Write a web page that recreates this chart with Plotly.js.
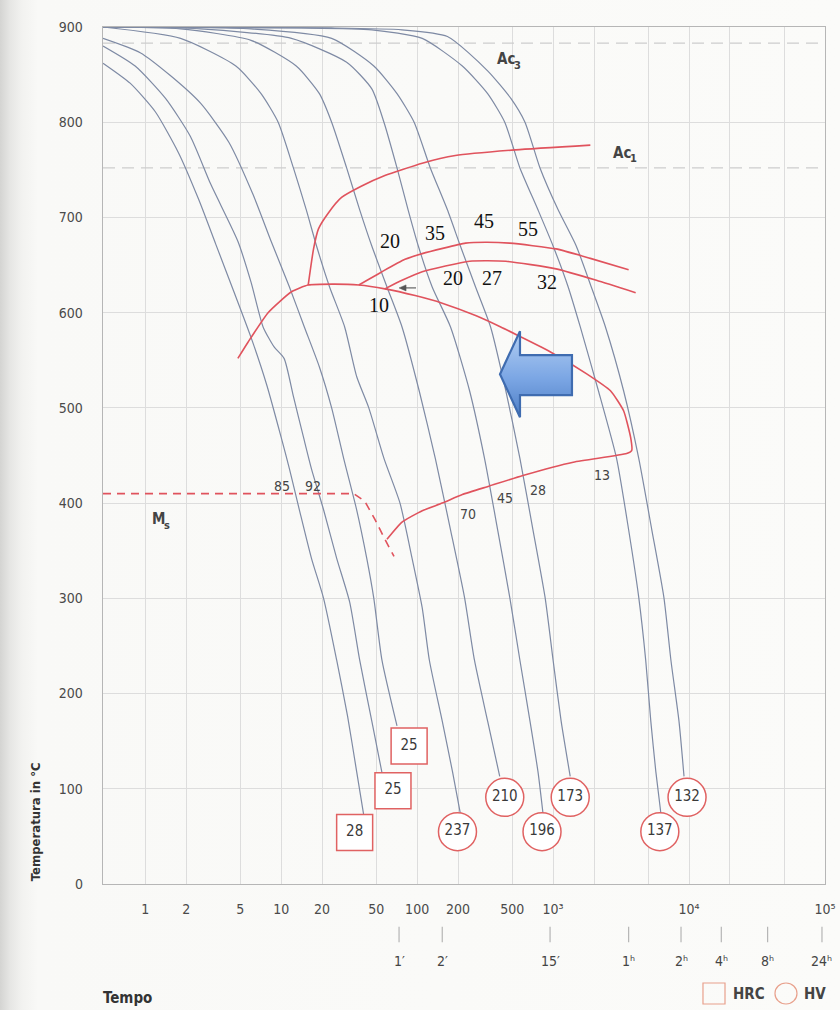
<!DOCTYPE html>
<html>
<head>
<meta charset="utf-8">
<script src="https://cdn.plot.ly/plotly-3.0.1.min.js"></script>
<style>
  html, body { margin: 0; padding: 0; }
  body {
    width: 840px; height: 1010px; overflow: hidden;
    background: linear-gradient(to right, #d4d4d2 0px, #e6e6e4 10px, #f2f2f0 22px, #f9f9f7 38px, #fbfbf9 100%);
  }
  #chart { width: 840px; height: 1010px; }
</style>
</head>
<body>
<div id="chart"></div>
<script>
// ---- Cooling curves (time in s, temperature in °C) ----
const c1Time = [0.489,0.774,1.186,1.755,2.47,3.30,4.49,6.0,7.87,10.0,11.5,13.6,16.7,20.5,25.6,30.8,35.9,40.5];
const c1Temp = [862,841,811,768,719,672,622,574,523,469,436,393,342,300,235,176,118,72];
const c2Time = [0.489,0.843,1.41,2.15,3.03,4.80,6.0,7.36,8.87,10.5,12.3,14.6,16.7,20.5,25.6,31.9,37.8,46.4,55.1];
const c2Temp = [880,859,825,785,735,675,632,585,564,552,512,469,436,393,342,296,235,171,117];
const c3Time = [0.489,0.918,1.53,2.55,4.12,6.21,8.43,11.5,14.8,19.1,23.5,28.8,35.9,42.6,48.0,55.1,71.1];
const c3Temp = [888,873,849,820,779,724,675,627,585,543,500,447,393,342,300,235,166];
const c4Time = [0.489,1.82,4.64,7.11,9.5,12.3,15.3,18.2,22.7,29.3,35.9,44.1,57.0,74.8,91.8,109,123,153,182,208];
const c4Temp = [900,888,859,830,800,752,708,670,627,585,533,500,447,400,342,290,235,171,118,74];
const c5Time = [0.489,1.82,6.0,12.9,19.1,23.5,30.3,37.8,46.4,60.0,77.4,103.5,136,176,223,264,330,405];
const c5Temp = [900,898,886,859,830,800,752,708,670,627,585,518,447,372,301,235,171,113];
const c6Time = [0.489,2.55,11.9,30.3,46.4,57.0,71.1,85.8,102,129,176,243,313,391,480,570,676,774,843];
const c6Temp = [900,898,888,863,835,800,752,708,670,627,585,518,447,372,301,235,171,118,74];
const c7Time = [0.489,6.0,23.5,48.0,71.1,95.0,125,167,208,269,347,449,570,711,873,1000,1146,1336];
const c7Temp = [900,898,888,859,830,800,752,708,670,627,585,518,447,372,301,235,171,113];
const c8Time = [0.489,14.1,46.4,109,215,330,441,570,774,1000,1291,1585,2154,2929,3594,4266,4800,5232,5697,6207];
const c8Temp = [900,899,897,888,859,830,800,752,708,670,627,585,518,447,372,301,235,171,118,74];
const c9Time = [0.489,23.5,77.4,167,330,489,621,801,1089,1480,1910,2427,3300,4266,5321,6531,7356,8433,9183];
const c9Temp = [900,899,897,890,854,825,800,752,708,670,627,585,518,447,372,301,235,171,113];

// ---- Transformation lines ----
const ferriteTime = [15.8,17.3,18.8,22.3,27.8,39.1,57.9,109,191,532,1879];
const ferriteTemp = [629,667,688,705,721,733,744,757,765,771,776];
const noseTime = [4.80,5.70,8.01,11.9,15.8,24.7,37.2,57.9,96.6,153,269,412,570,950,1755,2642,3300,3718,3784,3475,1407,599,341,215,153,109,77.4,60.0];
const noseTemp = [552,569,600,622,629,630,629,625,618,610,597,585,575,559,536,518,497,469,455,452,443,429,418,409,400,392,380,362];
const upperArcTime = [37.2,55.1,81.5,109,227,319,480,1052,1879,3594];
const upperArcTemp = [629,643,656,662,673,674,673,667,657,645];
const lowerArcTime = [57.9,77.4,109,243,449,1052,2083,4049];
const lowerArcTemp = [625,634,643,654,654,646,634,621];
const msTime = [0.489,34.1,41.2,48.9,57.9,67.6];
const msTemp = [410,410,402,383,362,344];

// ---- Critical temperatures ----
const ac3Temp = 883;
const ac1Temp = 752;

// ---- Hardness after cooling ----
const hrcValues = [28,25,25];
const hrcTime = [34.7,66.4,87.3];
const hrcTemp = [54,98,145];
const hvValues = [237,210,196,173,137,132];
const hvTime = [198,441,829,1336,6097,9668];
const hvTemp = [55,91,55,91,55,91];

// ---- Percent labels ----
const pctText = ['85','92','70','45','28','13'];
const pctTime = [10.2,17.0,235,441,774,2307];
const pctTemp = [418,418,389,405,414,430];
const fpText = ['20','35','45','55','10','20','27','32'];
const fpTime = [63.1,136,308,653,52.3,185,353,903];
const fpTemp = [675,684,696,688,608,636,636,632];
const pointerTime = 73.6;
const pointerTemp = 626;

// ---- Point labels (main letters + index) ----
const critMain = ['Ac','Ac','M'];
const critIndex = ['3','1','s'];
const critTime = [505,3594,1.36];
const critTemp = [866,768,383];

// ---- Axis ticks ----
const xTickVals = [1,2,5,10,20,50,100,200,500,1000,10000,100000];
const xTickText = ['1','2','5','10','20','50','100','200','500','10³','10⁴','10⁵'];
const xMinorGrid = [2000,5000,20000,50000];
const yTickVals = [0,100,200,300,400,500,600,700,800,900];
const timeMarkText = ['1′','2′','15′','1ʰ','2ʰ','4ʰ','8ʰ','24ʰ'];
const timeMarkPos = [73.6,153,950,3594,8730,17270,37840,95000];

const FONT_C = "'DejaVu Sans Condensed','Liberation Sans Narrow','Roboto Condensed','Arial Narrow','Liberation Sans',sans-serif";
const FONT_T = "'Liberation Serif','Times New Roman',serif";
const CURVE = '#7e8aa4';
const RED = '#e0535d';
const X_RANGE = [Math.log10(0.489), 5];
const Y_RANGE = [0, 900];
const xPaper = t => (Math.log10(t) - X_RANGE[0]) / (X_RANGE[1] - X_RANGE[0]);
const yPaper = T => (T - Y_RANGE[0]) / (Y_RANGE[1] - Y_RANGE[0]);

const traces = [];

// Ac3 / Ac1 reference lines
[ac3Temp, ac1Temp].forEach(T => traces.push({
  x: [0.489, 100000], y: [T, T], mode: 'lines', hoverinfo: 'skip',
  line: { color: '#cdcdcd', width: 1.3, dash: '12px,7px' }
}));

// Cooling curves
[[c1Time,c1Temp],[c2Time,c2Temp],[c3Time,c3Temp],[c4Time,c4Temp],[c5Time,c5Temp],
 [c6Time,c6Temp],[c7Time,c7Temp],[c8Time,c8Temp],[c9Time,c9Temp]].forEach(([t, T]) => traces.push({
  x: t, y: T, mode: 'lines', hoverinfo: 'skip',
  line: { color: CURVE, width: 1.2, shape: 'spline', smoothing: 0.6 }
}));

// Transformation start / finish lines
[[ferriteTime,ferriteTemp],[noseTime,noseTemp],[upperArcTime,upperArcTemp],[lowerArcTime,lowerArcTemp]].forEach(([t, T]) => traces.push({
  x: t, y: T, mode: 'lines', hoverinfo: 'skip',
  line: { color: RED, width: 1.6, shape: 'spline', smoothing: 0.5 }
}));

// Martensite start
traces.push({
  x: msTime, y: msTemp, mode: 'lines', hoverinfo: 'skip',
  line: { color: RED, width: 1.6, dash: '8px,6px' }
});

// Hardness markers
traces.push({
  x: hrcTime, y: hrcTemp, mode: 'markers+text', hoverinfo: 'skip', cliponaxis: false,
  text: hrcValues.map(String), textposition: 'middle center',
  textfont: { family: FONT_C, size: 15, color: '#3a3a3a' },
  marker: { symbol: 'square', size: 36, color: '#ffffff', line: { color: '#e06262', width: 1.5 } }
});
traces.push({
  x: hvTime, y: hvTemp, mode: 'markers+text', hoverinfo: 'skip', cliponaxis: false,
  text: hvValues.map(String), textposition: 'middle center',
  textfont: { family: FONT_C, size: 15, color: '#3a3a3a' },
  marker: { symbol: 'circle', size: 38, color: '#ffffff', line: { color: '#e06262', width: 1.5 } }
});

const annotations = [];
const shapes = [];

pctText.forEach((s, i) => annotations.push({
  x: Math.log10(pctTime[i]), y: pctTemp[i], xref: 'x', yref: 'y', text: s, showarrow: false,
  font: { family: FONT_C, size: 14, color: '#444' }
}));
fpText.forEach((s, i) => annotations.push({
  x: Math.log10(fpTime[i]), y: fpTemp[i], xref: 'x', yref: 'y', text: s, showarrow: false,
  font: { family: FONT_T, size: 20, color: '#111' }
}));

// Critical point labels: letters, then a lowered index
critMain.forEach((s, i) => {
  annotations.push({ x: Math.log10(critTime[i]), y: critTemp[i], xref: 'x', yref: 'y', text: '<b>' + s + '</b>',
    showarrow: false, xanchor: 'right', yanchor: 'middle', xshift: 4,
    font: { family: FONT_C, size: 15, color: '#444' } });
  annotations.push({ x: Math.log10(critTime[i]), y: critTemp[i], xref: 'x', yref: 'y', text: '<b>' + critIndex[i] + '</b>',
    showarrow: false, xanchor: 'left', yanchor: 'middle', xshift: -1, yshift: -6,
    font: { family: FONT_C, size: 11, color: '#444' } });
});

// small pointer next to the "10" label
{
  const px = xPaper(pointerTime), py = yPaper(pointerTemp);
  const dx = 1 / 722, dy = 1 / 857;
  shapes.push({ type: 'line', xref: 'paper', yref: 'paper', x0: px + 3 * dx, x1: px + 17 * dx, y0: py, y1: py,
    line: { color: '#555', width: 1.1 } });
  shapes.push({ type: 'path', xref: 'paper', yref: 'paper',
    path: `M ${px} ${py} L ${px + 7 * dx} ${py + 3 * dy} L ${px + 7 * dx} ${py - 3 * dy} Z`,
    fillcolor: '#555', line: { color: '#555', width: 0.5 } });
}

// Secondary time scale (minutes / hours)
timeMarkText.forEach((s, i) => {
  const xp = xPaper(timeMarkPos[i]);
  shapes.push({ type: 'line', xref: 'paper', yref: 'paper', x0: xp, x1: xp, y0: -0.050, y1: -0.068,
    line: { color: '#b5b5b5', width: 1.2 } });
  annotations.push({ x: xp, y: -0.090, xref: 'paper', yref: 'paper', text: s, showarrow: false,
    xanchor: 'center', yanchor: 'middle', font: { family: FONT_C, size: 14, color: '#444' } });
});

// Axis titles
annotations.push({ x: -0.094, y: 0.0723, xref: 'paper', yref: 'paper', text: '<b>Temperatura in °C</b>',
  textangle: -90, showarrow: false, xanchor: 'center', yanchor: 'middle',
  font: { family: FONT_C, size: 13, color: '#333' } });
annotations.push({ x: 0.0346, y: -0.133, xref: 'paper', yref: 'paper', text: '<b>Tempo</b>',
  showarrow: false, xanchor: 'center', yanchor: 'middle',
  font: { family: FONT_C, size: 15, color: '#333' } });

// Legend for hardness symbols
shapes.push({ type: 'rect', xref: 'paper', yref: 'paper', x0: 0.831, x1: 0.8615, y0: -0.1155, y1: -0.140,
  line: { color: '#e8a08c', width: 1.2 } });
shapes.push({ type: 'circle', xref: 'paper', yref: 'paper', x0: 0.9307, x1: 0.9612, y0: -0.1155, y1: -0.140,
  line: { color: '#e8a08c', width: 1.2 } });
annotations.push({ x: 0.8947, y: -0.1285, xref: 'paper', yref: 'paper', text: '<b>HRC</b>', showarrow: false,
  xanchor: 'center', yanchor: 'middle', font: { family: FONT_C, size: 15, color: '#444' } });
annotations.push({ x: 0.9862, y: -0.1285, xref: 'paper', yref: 'paper', text: '<b>HV</b>', showarrow: false,
  xanchor: 'center', yanchor: 'middle', font: { family: FONT_C, size: 15, color: '#444' } });

// Blue block arrow
const arrowSvg = "<svg xmlns='http://www.w3.org/2000/svg' width='78' height='92' viewBox='0 0 78 92'>" +
  "<defs><linearGradient id='g' x1='0' y1='0' x2='0' y2='1'>" +
  "<stop offset='0' stop-color='#b3cff3'/><stop offset='0.55' stop-color='#7ba6e4'/><stop offset='1' stop-color='#4f7fc6'/>" +
  "</linearGradient></defs>" +
  "<path d='M3,46 L23,3 L23,27 L75,27 L75,67 L23,67 L23,89 Z' fill='url(#g)' stroke='#3f6cb0' stroke-width='2.2' stroke-linejoin='miter'/>" +
  "</svg>";

const layout = {
  width: 840, height: 1010,
  margin: { l: 103, r: 15, t: 27, b: 126 },
  paper_bgcolor: 'rgba(0,0,0,0)', plot_bgcolor: 'rgba(0,0,0,0)',
  showlegend: false,
  xaxis: {
    type: 'log', range: X_RANGE, tickmode: 'array', tickvals: xTickVals, ticktext: xTickText,
    showgrid: true, gridcolor: '#dddddd', gridwidth: 1, zeroline: false,
    minor: { tickmode: 'array', tickvals: xMinorGrid, showgrid: true, gridcolor: '#dddddd', gridwidth: 1, ticks: '' },
    showline: true, mirror: true, linecolor: '#b6b6b6', linewidth: 1.3,
    ticks: 'outside', ticklen: 12, tickcolor: 'rgba(0,0,0,0)',
    tickfont: { family: FONT_C, size: 14, color: '#4a4a4a' }
  },
  yaxis: {
    range: Y_RANGE, tickmode: 'array', tickvals: yTickVals,
    showgrid: true, gridcolor: '#dddddd', gridwidth: 1, zeroline: false,
    showline: true, mirror: true, linecolor: '#b6b6b6', linewidth: 1.3,
    ticks: 'outside', ticklen: 16, tickcolor: 'rgba(0,0,0,0)',
    tickfont: { family: FONT_C, size: 14, color: '#4a4a4a' }
  },
  annotations: annotations,
  shapes: shapes,
  images: [{
    source: 'data:image/svg+xml;charset=utf-8,' + encodeURIComponent(arrowSvg),
    xref: 'paper', yref: 'paper', x: 0.5457, y: 0.6485, sizex: 0.108, sizey: 0.1073,
    xanchor: 'left', yanchor: 'top', sizing: 'stretch', layer: 'above'
  }]
};

Plotly.newPlot('chart', traces, layout, { displayModeBar: false, staticPlot: true });
</script>
</body>
</html>
